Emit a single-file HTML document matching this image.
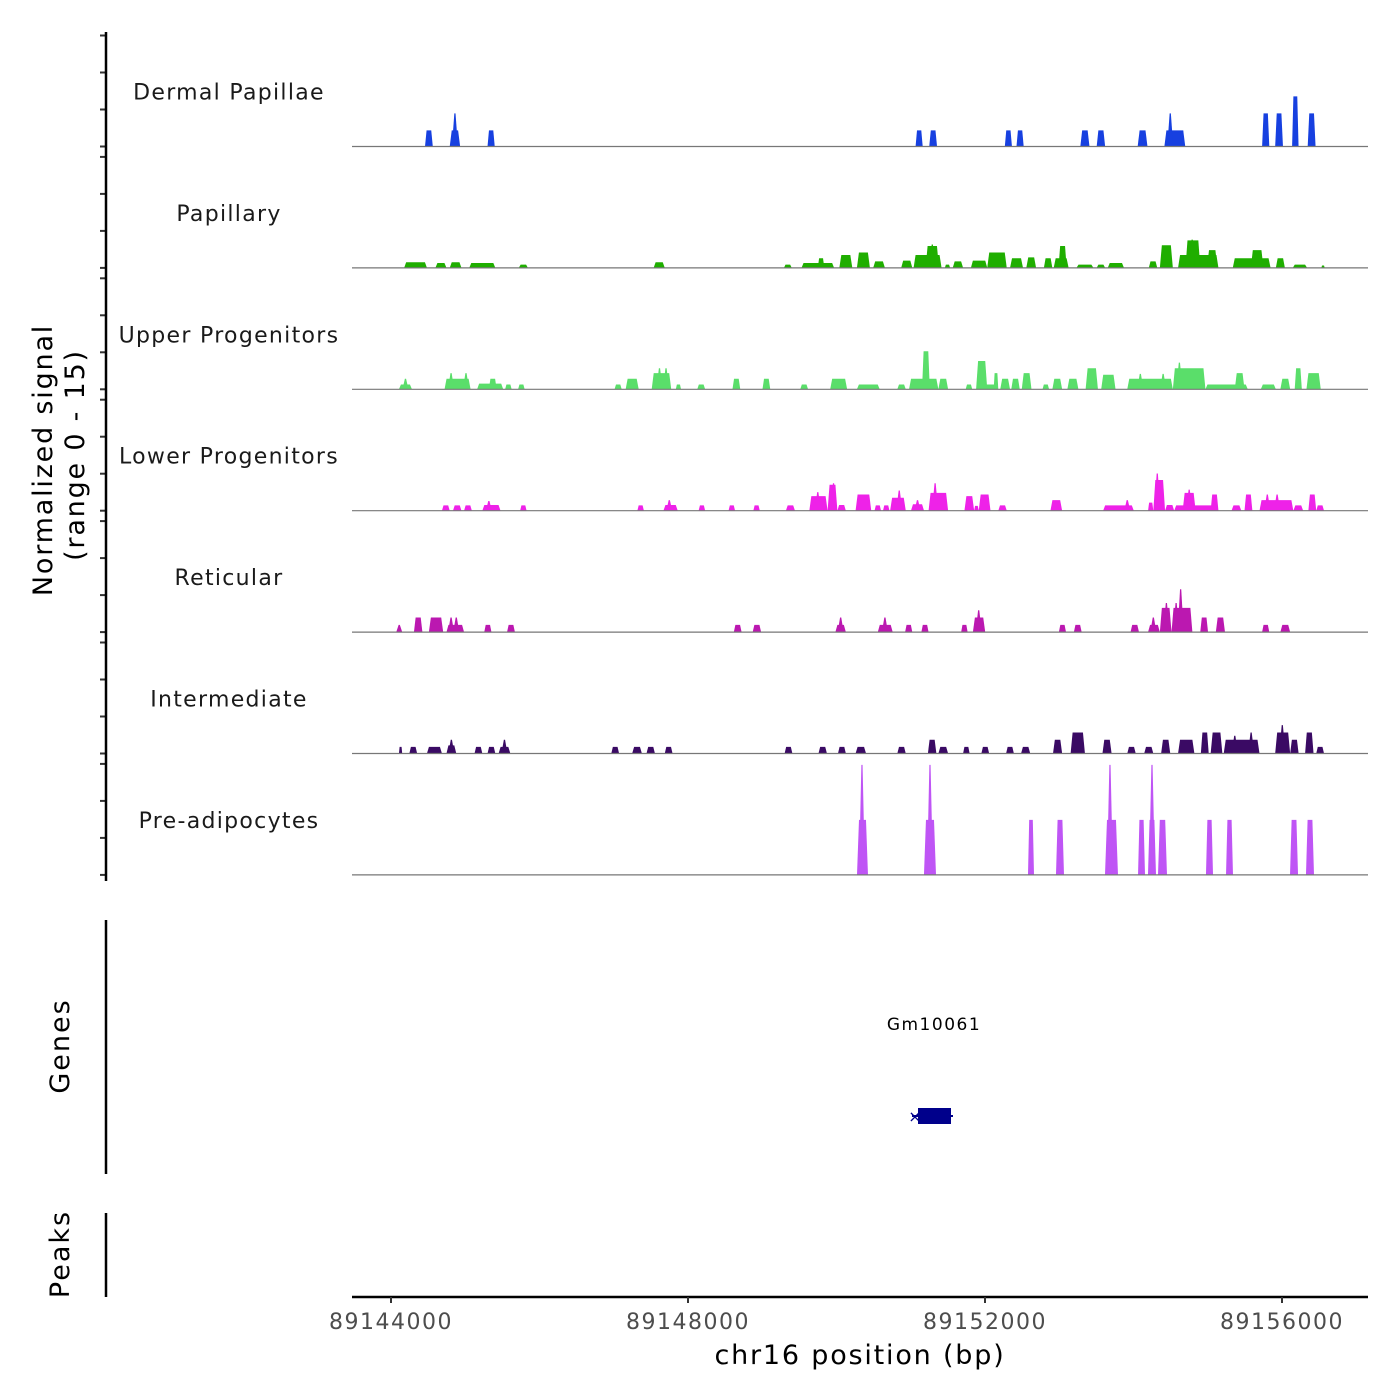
<!DOCTYPE html>
<html><head><meta charset="utf-8">
<style>
html,body{margin:0;padding:0;background:#fff;}
svg{display:block;font-family:"DejaVu Sans","Liberation Sans",sans-serif;}
</style></head>
<body>
<svg id="chart" width="1400" height="1400" viewBox="0 0 1400 1400">
  <g id="tracks"></g>
  <g id="yaxis"></g>
  <text x="0" y="0" transform="translate(52,460) rotate(-90)" text-anchor="middle" font-size="27" letter-spacing="1.8" fill="#000">Normalized signal</text>
  <text x="0" y="0" transform="translate(84,455) rotate(-90)" text-anchor="middle" font-size="27" letter-spacing="1.8" fill="#000">(range 0 - 15)</text>
  <line x1="106" y1="920" x2="106" y2="1174" stroke="#000" stroke-width="2.5"/>
  <text transform="translate(69,1046) rotate(-90)" text-anchor="middle" font-size="27" letter-spacing="2">Genes</text>
  <line x1="106" y1="1213" x2="106" y2="1297" stroke="#000" stroke-width="2.5"/>
  <text transform="translate(69,1254) rotate(-90)" text-anchor="middle" font-size="27" letter-spacing="2">Peaks</text>
  <g id="gene">
    <text x="934" y="1030" text-anchor="middle" font-size="17" letter-spacing="1.5" fill="#000">Gm10061</text>
    <line x1="912" y1="1116" x2="953" y2="1116" stroke="#00008B" stroke-width="2"/>
    <text x="915" y="1122" text-anchor="middle" font-size="16" fill="#00008B">×</text>
    <rect x="918" y="1108" width="33" height="16" fill="#00008B"/>
  </g>
  <g id="xaxis"></g>
  <text x="860" y="1364" text-anchor="middle" font-size="27" letter-spacing="1.8" fill="#000">chr16 position (bp)</text>
</svg>
<script>
const xTicks = [89144000, 89148000, 89152000, 89156000];
const trackNames = ["Dermal Papillae","Papillary","Upper Progenitors","Lower Progenitors","Reticular","Intermediate","Pre-adipocytes"];
const trackColors = ["#1740e0","#1fae00","#5ade6a","#ee22e8","#bb18b0","#3a0a64","#bf55f5"];

const dpBlocks = [[89144458,89144563,2],[89144791,89144931,2],[89145300,89145397,2],[89151065,89151161,2],[89151249,89151354,2],[89152267,89152363,2],[89152424,89152521,2],[89153284,89153407,2],[89153504,89153618,2],[89154056,89154188,2],[89154416,89154697,2],[89155732,89155829,4.1],[89155908,89156013,4.1],[89156136,89156223,6.2],[89156346,89156452,4.1]];
const dpSpikes = [[89144861,4.1],[89154495,4.1]];

const papBlocks = [[89144177,89144484,0.7],[89144598,89144747,0.6],[89144791,89144949,0.7],[89145054,89145405,0.6],[89145721,89145844,0.4],[89147537,89147687,0.7],[89149292,89149397,0.4],[89149529,89149968,0.6],[89149748,89149836,1.2],[89150038,89150213,1.6],[89150275,89150450,1.9],[89150494,89150652,0.8],[89150871,89151021,0.9],[89151038,89151415,1.6],[89151200,89151380,2.7],[89151459,89151530,0.4],[89151565,89151705,0.8],[89151810,89152030,0.9],[89152030,89152293,1.9],[89152337,89152512,1.2],[89152556,89152688,1.3],[89152793,89152907,1.2],[89152925,89153126,1.2],[89152990,89153100,2.7],[89153232,89153460,0.4],[89153504,89153618,0.4],[89153653,89153872,0.6],[89154206,89154320,0.8],[89154355,89154530,2.8],[89154600,89155144,1.6],[89154700,89154900,3.4],[89154990,89155130,2.2],[89155337,89155846,1.2],[89155580,89155750,2.2],[89155917,89156039,1.2],[89156145,89156338,0.4],[89156530,89156575,0.3]];
const papSpikes = [[89154790,3.5],[89151290,2.9]];

const upBlocks = [[89144107,89144282,0.6],[89144721,89145072,1.3],[89145160,89145511,0.7],[89145318,89145423,1.3],[89145537,89145625,0.6],[89145712,89145800,0.6],[89147011,89147107,0.6],[89147160,89147336,1.3],[89147511,89147774,2.0],[89147836,89147906,0.6],[89148125,89148231,0.6],[89148599,89148704,1.3],[89149003,89149108,1.3],[89149512,89149617,0.6],[89149915,89150143,1.3],[89150275,89150582,0.6],[89150819,89150933,0.6],[89150977,89151372,1.3],[89151152,89151257,4.7],[89151372,89151503,1.3],[89151740,89151828,0.6],[89151880,89152161,0.6],[89151880,89152030,3.5],[89152117,89152179,2.0],[89152205,89152337,1.3],[89152354,89152468,1.3],[89152495,89152626,2.0],[89152775,89152863,0.6],[89152907,89153039,1.3],[89153109,89153258,1.3],[89153355,89153521,2.6],[89153565,89153758,1.8],[89153916,89154530,1.3],[89154530,89154969,2.6],[89154969,89155539,0.6],[89155364,89155495,2.0],[89155715,89155917,0.6],[89155978,89156110,1.3],[89156171,89156267,2.6],[89156329,89156522,2.0]];
const upSpikes = [[89144195,1.3],[89144809,2.0],[89145010,2.0],[89147616,2.6],[89147704,2.6],[89154092,1.9],[89154399,1.9],[89154618,3.3]];

const lpBlocks = [[89144686,89144791,0.66],[89144835,89144949,0.66],[89144984,89145089,0.66],[89145230,89145475,0.7],[89145739,89145826,0.66],[89147318,89147406,0.66],[89147669,89147862,0.7],[89148143,89148231,0.66],[89148546,89148634,0.66],[89148880,89148967,0.66],[89149318,89149441,0.66],[89149634,89149880,1.8],[89149880,89150012,3.2],[89150012,89150126,0.7],[89150257,89150468,2.0],[89150512,89150600,0.66],[89150626,89150714,0.66],[89150722,89150933,1.6],[89151003,89151179,0.8],[89151240,89151503,2.2],[89151723,89151854,1.8],[89151854,89151915,0.6],[89151915,89152074,2.0],[89152179,89152293,0.66],[89152881,89153039,1.3],[89153591,89154004,0.66],[89154196,89154267,1.0],[89154267,89154425,3.8],[89154425,89154548,0.7],[89154548,89155144,0.66],[89154662,89154837,2.2],[89155039,89155144,2.0],[89155320,89155452,0.66],[89155495,89155601,2.0],[89155697,89156153,1.3],[89156153,89156285,0.66],[89156355,89156461,2.0],[89156461,89156566,0.66]];
const lpSpikes = [[89145318,1.2],[89147748,1.3],[89149748,2.3],[89149960,3.4],[89150845,2.5],[89151091,1.3],[89151328,3.4],[89153916,1.3],[89154320,4.6],[89154750,2.6],[89155802,2.0],[89155934,2.0]];

const retBlocks = [[89144309,89144423,1.8],[89144510,89144703,1.8],[89144747,89144984,0.9],[89145256,89145353,0.9],[89145563,89145669,0.9],[89148617,89148722,0.9],[89148871,89148985,0.9],[89149985,89150126,0.9],[89150556,89150757,0.9],[89150924,89151021,0.9],[89151143,89151240,0.9],[89151679,89151766,0.9],[89151837,89152003,1.8],[89152995,89153091,0.9],[89153197,89153302,0.9],[89153960,89154074,0.9],[89154196,89154355,0.9],[89154355,89154512,3.0],[89154512,89154793,3.0],[89154899,89155004,1.8],[89155109,89155232,1.8],[89155732,89155829,0.9],[89155978,89156110,0.9]];
const retSpikes = [[89144111,0.9],[89144809,1.8],[89144879,1.8],[89150056,1.8],[89150652,1.8],[89151915,2.7],[89154267,1.8],[89154443,3.6],[89154574,3.6],[89154635,5.3]];

const intBlocks = [[89144107,89144151,0.82],[89144247,89144352,0.82],[89144484,89144686,0.82],[89144747,89144879,1.0],[89145125,89145230,0.82],[89145300,89145405,0.82],[89145449,89145607,0.82],[89146967,89147072,0.82],[89147248,89147379,0.82],[89147441,89147555,0.82],[89147687,89147792,0.82],[89149301,89149406,0.82],[89149757,89149871,0.82],[89150020,89150126,0.82],[89150257,89150398,0.82],[89150819,89150933,0.82],[89151231,89151345,1.7],[89151372,89151503,0.82],[89151705,89151793,0.82],[89151951,89152056,0.82],[89152284,89152389,0.82],[89152486,89152609,0.82],[89152916,89153039,1.7],[89153153,89153346,2.6],[89153582,89153705,1.7],[89153916,89154030,0.82],[89154144,89154267,0.82],[89154372,89154495,1.7],[89154600,89154820,1.7],[89154907,89155013,2.6],[89155039,89155197,2.6],[89155215,89155697,1.7],[89155908,89156110,2.6],[89156110,89156224,1.7],[89156311,89156425,2.6],[89156461,89156566,0.82]];
const intSpikes = [[89144813,1.7],[89145528,1.7],[89155364,2.2],[89155584,2.6],[89156004,3.5]];

const preBlocks = [[89150276,89150424,6.8],[89151178,89151340,6.8],[89152579,89152660,6.8],[89152956,89153064,6.8],[89153616,89153791,6.8],[89154061,89154155,6.8],[89154195,89154303,6.8],[89154330,89154451,6.8],[89154976,89155071,6.8],[89155246,89155340,6.8],[89156108,89156216,6.8],[89156323,89156431,6.8]];
const preSpikes = [[89150343,13.6],[89151259,13.6],[89153683,13.6],[89154249,13.6]];

const allBlocks = [dpBlocks,papBlocks,upBlocks,lpBlocks,retBlocks,intBlocks,preBlocks];
const allSpikes = [dpSpikes,papSpikes,upSpikes,lpSpikes,retSpikes,intSpikes,preSpikes];

const NS = "http://www.w3.org/2000/svg";
const X0 = 352, X1 = 1368;
const pxPerBp = 297 / 4000;
function xScale(bp){ return 391 + (bp - 89144000) * pxPerBp; }
const trackH = 121.4, firstBase = 146.5, unitPx = 8.09;
function baseY(i){ return firstBase + i * trackH; }
function yScale(i, v){ return baseY(i) - v * unitPx; }

const tracksG = document.getElementById('tracks');
const yaxisG = document.getElementById('yaxis');

for (let i = 0; i < trackNames.length; i++) {
  const g = document.createElementNS(NS, 'g');
  
  
  tracksG.appendChild(g);

  const lbl = document.createElementNS(NS, 'text');
  lbl.setAttribute('x', 229); lbl.setAttribute('y', baseY(i) - 47);
  lbl.setAttribute('text-anchor', 'middle'); lbl.setAttribute('font-size', '22');
  lbl.setAttribute('letter-spacing', '1.3');
  lbl.setAttribute('fill', '#1a1a1a');
  lbl.textContent = trackNames[i];
  
  
  g.appendChild(lbl);

  for (const b of allBlocks[i]) {
    const xs = xScale(b[0]), xe = xScale(b[1]);
    const t = Math.min((xe - xs) * 0.2, 2);
    const y0 = baseY(i), y1 = yScale(i, b[2]);
    const p = document.createElementNS(NS, 'polygon');
    p.setAttribute('points', `${xs},${y0} ${xs + t},${y1} ${xe - t},${y1} ${xe},${y0}`);
    p.setAttribute('fill', trackColors[i]);
    
    
    g.appendChild(p);
  }
  for (const s of allSpikes[i]) {
    const xc = xScale(s[0]);
    const y0 = baseY(i), y1 = yScale(i, s[1]);
    const p = document.createElementNS(NS, 'polygon');
    p.setAttribute('points', `${xc - 3},${y0} ${xc - 0.6},${y1} ${xc + 0.6},${y1} ${xc + 3},${y0}`);
    p.setAttribute('fill', trackColors[i]);
    
    
    g.appendChild(p);
  }
  const bl = document.createElementNS(NS, 'line');
  bl.setAttribute('x1', X0); bl.setAttribute('x2', X1);
  bl.setAttribute('y1', baseY(i)); bl.setAttribute('y2', baseY(i));
  bl.setAttribute('stroke', '#777'); bl.setAttribute('stroke-width', '1.2');
  
  
  g.appendChild(bl);

  for (let k = 0; k < 4; k++) {
    const ty = baseY(i) - k * 37;
    const tk = document.createElementNS(NS, 'line');
    tk.setAttribute('x1', 100); tk.setAttribute('x2', 106);
    tk.setAttribute('y1', ty); tk.setAttribute('y2', ty);
    tk.setAttribute('stroke', '#333'); tk.setAttribute('stroke-width', '2');
    
    
    yaxisG.appendChild(tk);
  }
}
const yl = document.createElementNS(NS, 'line');
yl.setAttribute('x1', 106); yl.setAttribute('x2', 106);
yl.setAttribute('y1', 32); yl.setAttribute('y2', 881);
yl.setAttribute('stroke', '#000'); yl.setAttribute('stroke-width', '2.5');


yaxisG.appendChild(yl);

const xaxisG = document.getElementById('xaxis');
const xl = document.createElementNS(NS, 'line');
xl.setAttribute('x1', X0); xl.setAttribute('x2', X1);
xl.setAttribute('y1', 1297); xl.setAttribute('y2', 1297);
xl.setAttribute('stroke', '#000'); xl.setAttribute('stroke-width', '2.5');


xaxisG.appendChild(xl);
for (const t of xTicks) {
  const x = xScale(t);
  const tk = document.createElementNS(NS, 'line');
  tk.setAttribute('x1', x); tk.setAttribute('x2', x);
  tk.setAttribute('y1', 1297); tk.setAttribute('y2', 1303);
  tk.setAttribute('stroke', '#333'); tk.setAttribute('stroke-width', '2');
  
  
  xaxisG.appendChild(tk);
  const tl = document.createElementNS(NS, 'text');
  tl.setAttribute('x', x); tl.setAttribute('y', 1329);
  tl.setAttribute('text-anchor', 'middle'); tl.setAttribute('font-size', '22');
  tl.setAttribute('letter-spacing', '1.5');
  tl.setAttribute('fill', '#4d4d4d');
  tl.textContent = String(t);
  
  
  xaxisG.appendChild(tl);
}
</script>
</body></html>
